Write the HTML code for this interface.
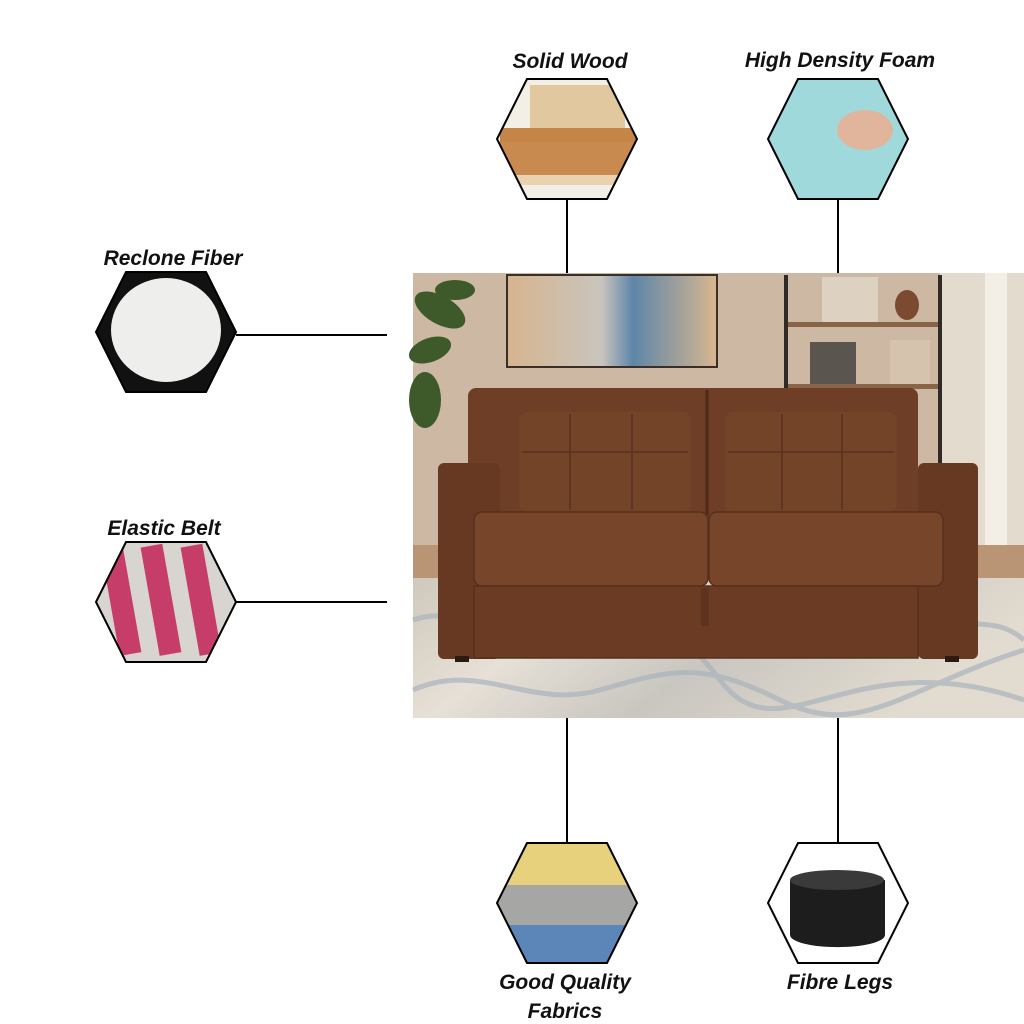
<!DOCTYPE html>
<html><head><meta charset="utf-8"><style>
html,body{margin:0;padding:0;background:#fff;width:1024px;height:1024px;overflow:hidden}
svg{display:block}
.lbl{font-family:"Liberation Sans",sans-serif;font-weight:bold;font-style:italic;font-size:21px;fill:#111;text-anchor:middle}
</style></head><body>
<svg width="1024" height="1024" viewBox="0 0 1024 1024" xmlns="http://www.w3.org/2000/svg">
<defs>
<clipPath id="h1"><polygon points="497,139 527,79 607,79 637,139 607,199 527,199"/></clipPath>
<clipPath id="h2"><polygon points="768,139 798,79 878,79 908,139 878,199 798,199"/></clipPath>
<clipPath id="h3"><polygon points="96,332 126,272 206,272 236,332 206,392 126,392"/></clipPath>
<clipPath id="h4"><polygon points="96,602 126,542 206,542 236,602 206,662 126,662"/></clipPath>
<clipPath id="h5"><polygon points="497,903 527,843 607,843 637,903 607,963 527,963"/></clipPath>
<clipPath id="h6"><polygon points="768,903 798,843 878,843 908,903 878,963 798,963"/></clipPath>
<linearGradient id="rug" x1="0" y1="0" x2="1" y2="0.3">
<stop offset="0" stop-color="#cfc8bc"/><stop offset=".3" stop-color="#e6e0d6"/><stop offset=".6" stop-color="#c9c6c0"/><stop offset="1" stop-color="#e2dbcf"/></linearGradient>
<linearGradient id="paint" x1="0" y1="0" x2="1" y2="0">
<stop offset="0" stop-color="#d6b48e"/><stop offset=".45" stop-color="#c9c5bd"/><stop offset=".6" stop-color="#5e86a8"/><stop offset="1" stop-color="#d8b78f"/></linearGradient>
</defs>

<!-- connectors -->
<g stroke="#000" stroke-width="2">
<line x1="567" y1="199" x2="567" y2="274"/>
<line x1="838" y1="199" x2="838" y2="274"/>
<line x1="236" y1="335" x2="387" y2="335"/>
<line x1="236" y1="602" x2="387" y2="602"/>
<line x1="567" y1="717" x2="567" y2="843"/>
<line x1="838" y1="717" x2="838" y2="843"/>
</g>

<!-- photo -->
<rect x="413" y="273" width="611" height="445" fill="#cdb8a3"/>
<rect x="940" y="273" width="84" height="290" fill="#e4dbcf"/>
<rect x="985" y="273" width="22" height="280" fill="#f3eee6"/>
<rect x="413" y="545" width="611" height="40" fill="#b99475"/>
<rect x="413" y="578" width="611" height="140" fill="url(#rug)"/>
<g fill="none" stroke="#a9b4bd" stroke-width="5" opacity=".7">
<path d="M413,620 C470,600 500,660 560,640 S660,600 720,680 S850,640 1024,700"/>
<path d="M413,690 C480,660 530,710 600,690 S700,660 780,700 S900,690 1024,650"/>
<path d="M930,600 C960,640 990,610 1024,640"/>
</g>
<rect x="507" y="275" width="210" height="92" fill="url(#paint)" stroke="#3a2e26" stroke-width="2"/>
<!-- shelves -->
<rect x="784" y="275" width="4" height="180" fill="#2e2a26"/>
<rect x="938" y="275" width="4" height="190" fill="#2e2a26"/>
<rect x="788" y="322" width="150" height="5" fill="#8a6446"/>
<rect x="788" y="384" width="150" height="5" fill="#8a6446"/>
<rect x="822" y="277" width="56" height="45" fill="#ddd2c2"/>
<rect x="810" y="342" width="46" height="42" fill="#5b5550"/>
<rect x="890" y="340" width="40" height="44" fill="#d5c3ad"/>
<ellipse cx="907" cy="305" rx="12" ry="15" fill="#7b4a30"/>
<!-- plant -->
<g fill="#3e5a2a"><ellipse cx="440" cy="310" rx="28" ry="14" transform="rotate(30 440 310)"/><ellipse cx="430" cy="350" rx="22" ry="12" transform="rotate(-20 430 350)"/><ellipse cx="425" cy="400" rx="16" ry="28"/><ellipse cx="455" cy="290" rx="20" ry="10"/></g>
<!-- sofa -->
<rect x="468" y="388" width="450" height="130" rx="8" fill="#6e3e26"/>
<line x1="707" y1="390" x2="707" y2="515" stroke="#4e2a18" stroke-width="3"/>
<rect x="519" y="412" width="172" height="100" rx="8" fill="#744429"/>
<rect x="725" y="412" width="172" height="100" rx="8" fill="#744429"/>
<g stroke="#5a3120" stroke-width="1.5">
<line x1="570" y1="414" x2="570" y2="510"/><line x1="632" y1="414" x2="632" y2="510"/><line x1="522" y1="452" x2="688" y2="452"/>
<line x1="782" y1="414" x2="782" y2="510"/><line x1="842" y1="414" x2="842" y2="510"/><line x1="728" y1="452" x2="894" y2="452"/>
</g>
<rect x="438" y="463" width="62" height="196" rx="6" fill="#673822"/>
<rect x="918" y="463" width="60" height="196" rx="6" fill="#673822"/>
<rect x="474" y="512" width="234" height="74" rx="8" fill="#77452a" stroke="#55301d" stroke-width="1.5"/>
<rect x="709" y="512" width="234" height="74" rx="8" fill="#77452a" stroke="#55301d" stroke-width="1.5"/>
<rect x="474" y="586" width="444" height="72" fill="#6b3b24" stroke="#55301d" stroke-width="1.5"/>
<rect x="701" y="588" width="8" height="38" fill="#5e331f"/>
<rect x="455" y="656" width="14" height="6" fill="#2a1a12"/><rect x="945" y="656" width="14" height="6" fill="#2a1a12"/>

<!-- hex images -->
<g clip-path="url(#h1)"><rect x="497" y="79" width="140" height="120" fill="#f4efe6"/>
<rect x="500" y="140" width="140" height="40" fill="#c98a4f"/><rect x="500" y="175" width="140" height="10" fill="#e8d2b0"/>
<rect x="530" y="85" width="95" height="45" fill="#e2c89f"/><rect x="500" y="128" width="140" height="14" fill="#c58546"/></g>
<g clip-path="url(#h2)"><rect x="768" y="79" width="140" height="120" fill="#9fd9dc"/>
<ellipse cx="865" cy="130" rx="28" ry="20" fill="#e0b59b"/></g>
<g clip-path="url(#h3)"><rect x="96" y="272" width="140" height="120" fill="#111"/>
<ellipse cx="166" cy="330" rx="55" ry="52" fill="#eeeeec"/></g>
<g clip-path="url(#h4)"><rect x="96" y="542" width="140" height="120" fill="#d8d4d0"/>
<rect x="110" y="545" width="22" height="110" fill="#c73d6a" transform="rotate(-10 120 600)"/>
<rect x="150" y="545" width="22" height="110" fill="#c73d6a" transform="rotate(-10 160 600)"/>
<rect x="190" y="545" width="22" height="110" fill="#c73d6a" transform="rotate(-10 200 600)"/></g>
<g clip-path="url(#h5)"><rect x="497" y="843" width="140" height="42" fill="#e8d17c"/>
<rect x="497" y="885" width="140" height="40" fill="#a6a6a4"/><rect x="497" y="925" width="140" height="40" fill="#5d86b8"/></g>
<g clip-path="url(#h6)"><rect x="768" y="843" width="140" height="120" fill="#fff"/>
<path d="M790,880 h95 v55 a47,12 0 0 1 -95,0 z" fill="#1d1d1d"/><ellipse cx="837" cy="880" rx="47" ry="10" fill="#3a3a3a"/></g>
<g fill="none" stroke="#000" stroke-width="2">
<polygon points="497,139 527,79 607,79 637,139 607,199 527,199"/>
<polygon points="768,139 798,79 878,79 908,139 878,199 798,199"/>
<polygon points="96,332 126,272 206,272 236,332 206,392 126,392"/>
<polygon points="96,602 126,542 206,542 236,602 206,662 126,662"/>
<polygon points="497,903 527,843 607,843 637,903 607,963 527,963"/>
<polygon points="768,903 798,843 878,843 908,903 878,963 798,963"/>
</g>

<text class="lbl" x="570" y="68">Solid Wood</text>
<text class="lbl" x="840" y="67">High Density Foam</text>
<text class="lbl" x="173" y="265">Reclone Fiber</text>
<text class="lbl" x="164" y="535">Elastic Belt</text>
<text class="lbl" x="565" y="989">Good Quality</text>
<text class="lbl" x="565" y="1018">Fabrics</text>
<text class="lbl" x="840" y="989">Fibre Legs</text>
</svg>
</body></html>
